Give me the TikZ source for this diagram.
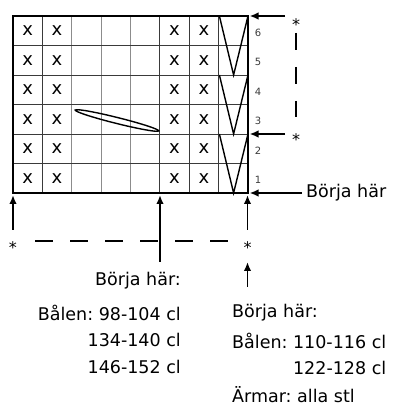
\documentclass[tikz,border=0pt]{standalone}
\usepackage{fontspec}
\setmainfont{DejaVu Sans}
\usetikzlibrary{arrows.meta}
\definecolor{grid-gray}{HTML}{8C8C8C}
\definecolor{grid-dark}{HTML}{3A3A3A}
\frenchspacing

\begin{document}
\begin{tikzpicture}[x=1pt, y=1pt,
    every node/.style={inner sep=0pt, font=\fontsize{17.5}{20}\selectfont},
    pointer/.style={-{Latex[length=9pt, width=7.5pt]}, line width=1.8pt},
    dashline/.style={line width=1.7pt, dash pattern=on 17pt off 17pt},
    starmark/.style={font=\fontsize{16}{16}\selectfont}]
    \useasboundingbox (0,0) rectangle (392,410);
    % grid
    \foreach \c in {1,5,6,7}
      \draw[line width=0.9pt, color=grid-dark] ({13+29.375*\c},217) -- ({13+29.375*\c},394);
    \foreach \c in {2,3,4}
      \draw[line width=1pt, color=grid-gray] ({13+29.375*\c},217) -- ({13+29.375*\c},394);
    \foreach \r in {1,...,5}
      \draw[line width=0.9pt, color=grid-dark] (13,{217+29.5*\r}) -- (248,{217+29.5*\r});
    \draw[line width=1.8pt] (13,217) rectangle (248,394);
    \foreach \c in {0,1,5,6}
      \foreach \r in {0,...,5}
        \node[font=\fontsize{18}{18}\selectfont] (x\c-\r)
          at ({13+29.375*(\c+0.5)},{217+29.5*(\r+0.5)}) {x};
    \foreach \p in {0,1,2}
      \draw[line width=1.4pt] (219.4,{217+59*(\p+1)}) -- (233.6,{217+59*\p})
        -- (248,{217+59*(\p+1)});
    \draw[line width=1.4pt, rotate around={-14:(117,289.5)}] (117,289.5) ellipse (43 and 3);
    \foreach \r in {1,...,6}
      \node[font=\fontsize{10}{12}\selectfont, text=grid-dark] (n\r)
        at (258,{217+29.5*(\r-0.5)-2}) {\r};
    % right side
    \coordinate (tr) at (249.5,394);
    \coordinate (mr) at (249.5,276);
    \coordinate (br) at (249.5,217);
    \coordinate (a1) at (285,394);
    \coordinate (a2) at (285,276);
    \coordinate (a3) at (302,217);
    \node[starmark] (st1) at (296,385) {*};
    \node[starmark] (st2) at (296,270) {*};
    \coordinate (d1) at (296,377);
    \coordinate (d2) at (296,293);
    \draw[pointer] (a1) -- (tr);
    \draw[pointer] (a2) -- (mr);
    \draw[pointer] (a3) -- (br);
    \draw[dashline] (d1) -- (d2);
    \node[anchor=base west] (bh0) at (306,212.5) {Börja här};
    % bottom
    \coordinate (h1) at (13,215);
    \coordinate (h2) at (160,215);
    \coordinate (h3) at (247.5,215);
    \coordinate (h4) at (247.5,148);
    \coordinate (t1) at (13,180);
    \coordinate (t2) at (160,148);
    \coordinate (t3) at (247.5,180);
    \coordinate (t4) at (247.5,123);
    \draw[pointer] (t1) -- (h1);
    \draw[pointer] (t2) -- (h2);
    \draw[pointer] (t3) -- (h3);
    \draw[pointer] (t4) -- (h4);
    \node[starmark] (st3) at (13,162) {*};
    \node[starmark] (st4) at (247.5,162) {*};
    \coordinate (d3) at (35,169);
    \coordinate (d4) at (231,169);
    \draw[dashline, dash pattern=on 18pt off 17pt] (d3) -- (d4);
    \node[anchor=base east] (bh1) at (181,124) {Börja här:};
    \node[anchor=base east] (bl1) at (181,89) {Bålen: 98-104 cl};
    \node[anchor=base east] (bl2) at (181,63) {134-140 cl};
    \node[anchor=base east] (bl3) at (181,36) {146-152 cl};
    \node[anchor=base west] (bh2) at (232,92) {Börja här:};
    \node[anchor=base west] (bl4) at (232,61) {Bålen: 110-116 cl};
    \node[anchor=base east] (bl5) at ([yshift=-26pt]bl4.base east) {122-128 cl};
    \node[anchor=base west] (arm) at (232,7) {Ärmar: alla stl};
\end{tikzpicture}
\end{document}
